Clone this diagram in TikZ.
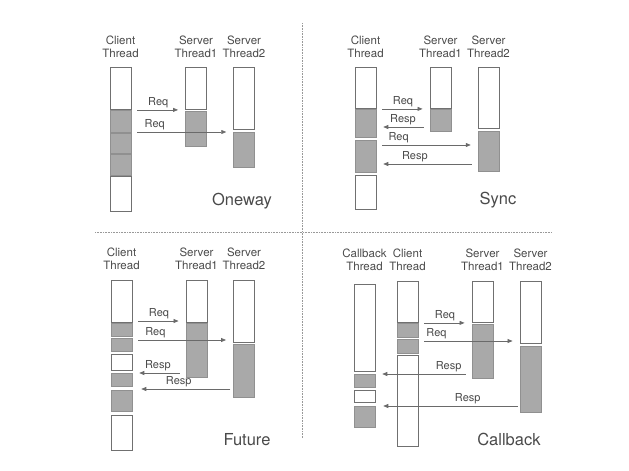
\documentclass[tikz,border=0pt]{standalone}
\usepackage{fontspec}
\setmainfont{TeX Gyre Heros}
\usetikzlibrary{arrows.meta, positioning}
\definecolor{mBorder}{HTML}{707070}
\definecolor{mBusy}{HTML}{A9A9A9}
\definecolor{mText}{HTML}{4A4A4A}
\definecolor{mArrow}{HTML}{6A6A6A}

\begin{document}
\begin{tikzpicture}[x=1pt, y=-1pt,
      >={Triangle[length=5pt, width=4pt]},
      idle/.style={rectangle, draw=mBorder, line width=0.9pt, fill=white,
                   anchor=north, minimum width=21pt, inner sep=0pt},
      busy/.style={idle, fill=mBusy, draw=mBusy!85!black, line width=0.5pt},
      msg/.style={->, draw=mArrow, line width=0.7pt,
                  shorten <=6pt, shorten >=7pt},
      lbl/.style={above, inner sep=1.5pt, font=\fontsize{11}{13}\selectfont,
                  text=mText},
      head/.style={align=center, inner sep=0pt, text=mText,
                   font=\fontsize{11.5}{13}\selectfont},
      title/.style={inner sep=0pt, text=mText,
                    font=\fontsize{16.5}{19}\selectfont},
      divider/.style={densely dotted, draw=black!40, line width=0.6pt}]
    \useasboundingbox (0,0) rectangle (629,471);

    % dividers
    \coordinate (dl) at (95,232);
    \coordinate (dr) at (552,232);
    \coordinate (dt) at (302,23);
    \coordinate (db) at (302,438);
    \draw[divider] (dl) -- (dr);
    \draw[divider] (dt) -- (db);

    % Oneway
    \node[head] (ohc)  at (120.5,47) {Client\\Thread};
    \node[head] (ohs1) at (196,47) {Server\\Thread1};
    \node[head] (ohs2) at (244,47) {Server\\Thread2};
    \node[idle, minimum height=42pt] (oc1) at (120.5,67) {};
    \node[busy, minimum height=22pt] (oc2) at (120.5,109.5) {};
    \node[busy, minimum height=20pt] (oc3) at (120.5,132.5) {};
    \node[busy, minimum height=21pt] (oc4) at (120.5,153.5) {};
    \node[idle, minimum height=35pt] (oc5) at (120.5,176) {};
    \node[idle, minimum height=42pt] (os1a) at (196,67) {};
    \node[busy, minimum height=35pt] (os1b) at (196,111) {};
    \node[idle, minimum height=62pt] (os2a) at (244,67) {};
    \node[busy, minimum height=35pt] (os2b) at (244,132) {};
    \draw[msg] (oc1.south east) -- node[lbl, pos=0.5] {Req} (os1a.south west);
    \draw[msg] (oc2.south east) -- node[lbl, pos=0.23] {Req} (os2b.north west);
    \node[title] (otitle) at (242,201) {Oneway};

    % Sync
    \node[head] (shc)  at (365.5,47) {Client\\Thread};
    \node[head] (shs1) at (440.5,47) {Server\\Thread1};
    \node[head] (shs2) at (488.5,47) {Server\\Thread2};
    \node[idle, minimum height=41pt] (sc1) at (365.5,67) {};
    \node[busy, minimum height=28pt] (sc2) at (365.5,109) {};
    \node[busy, minimum height=32pt] (sc3) at (365.5,140) {};
    \node[idle, minimum height=34pt] (sc4) at (365.5,175) {};
    \node[idle, minimum height=41pt] (ss1a) at (440.5,67) {};
    \node[busy, minimum height=22pt] (ss1b) at (440.5,108.5) {};
    \node[idle, minimum height=61pt] (ss2a) at (488.5,67) {};
    \node[busy, minimum height=40pt] (ss2b) at (488.5,131) {};
    \draw[msg] (sc1.south east) -- node[lbl, pos=0.5] {Req} (ss1a.south west);
    \draw[msg] (ss1b.west |- 0,127) -- node[lbl, pos=0.5] {Resp} (sc2.east |- 0,127);
    \draw[msg] (sc3.east |- 0,145) -- node[lbl, pos=0.22] {Req} (ss2b.west |- 0,145);
    \draw[msg] (ss2b.west |- 0,164) -- node[lbl, pos=0.62] {Resp} (sc3.east |- 0,164);
    \node[title] (stitle) at (498,200) {Sync};

    % Future
    \node[head] (fhc)  at (121.5,259) {Client\\Thread};
    \node[head] (fhs1) at (196.5,259) {Server\\Thread1};
    \node[head] (fhs2) at (244,259) {Server\\Thread2};
    \node[idle, minimum height=42pt] (fc1) at (121.5,280) {};
    \node[busy, minimum height=13pt] (fc2) at (121.5,323) {};
    \node[busy, minimum height=13pt] (fc3) at (121.5,338) {};
    \node[idle, minimum height=16pt] (fc4) at (121.5,354) {};
    \node[busy, minimum height=13pt] (fc5) at (121.5,373) {};
    \node[busy, minimum height=21pt] (fc6) at (121.5,390) {};
    \node[idle, minimum height=35pt] (fc7) at (121.5,415) {};
    \node[idle, minimum height=42pt] (fs1a) at (196.5,280) {};
    \node[busy, minimum height=54pt] (fs1b) at (196.5,323) {};
    \node[idle, minimum height=62pt] (fs2a) at (244,280) {};
    \node[busy, minimum height=53pt] (fs2b) at (244,344) {};
    \draw[msg] (fc1.east |- 0,321) -- node[lbl, pos=0.5] {Req} (fs1a.west |- 0,321);
    \draw[msg] (fc3.east |- 0,340) -- node[lbl, pos=0.23] {Req} (fs2a.west |- 0,340);
    \draw[msg] (fs1b.west |- 0,373) -- node[lbl, pos=0.52] {Resp} (fc5.east |- 0,373);
    \draw[msg, shorten <=3pt, shorten >=9pt] (fs2b.west |- 0,389)
      -- node[lbl, pos=0.54] {Resp} (fc6.east |- 0,389);
    \node[title] (ftitle) at (247,440) {Future};

    % Callback
    \node[head] (chb)  at (364.5,260) {Callback\\Thread};
    \node[head] (chc)  at (407.5,260) {Client\\Thread};
    \node[head] (chs1) at (482.5,260) {Server\\Thread1};
    \node[head] (chs2) at (530.5,260) {Server\\Thread2};
    \node[idle, minimum height=87pt] (cb1) at (364.5,284) {};
    \node[busy, minimum height=13pt] (cb2) at (364.5,374) {};
    \node[idle, minimum height=12pt] (cb3) at (364.5,390) {};
    \node[busy, minimum height=21pt] (cb4) at (364.5,406) {};
    \node[idle, minimum height=41pt] (cc1) at (407.5,281) {};
    \node[busy, minimum height=14pt] (cc2) at (407.5,323) {};
    \node[busy, minimum height=14pt] (cc3) at (407.5,338.5) {};
    \node[idle, minimum height=91pt] (cc4) at (407.5,355) {};
    \node[idle, minimum height=41pt] (cs1a) at (482.5,281) {};
    \node[busy, minimum height=54pt] (cs1b) at (482.5,324) {};
    \node[idle, minimum height=62pt] (cs2a) at (530.5,281) {};
    \node[busy, minimum height=66pt] (cs2b) at (530.5,346) {};
    \draw[msg] (cc1.south east) -- node[lbl, pos=0.5] {Req} (cs1a.south west);
    \draw[msg] (cc3.east |- 0,341) -- node[lbl, pos=0.18] {Req} (cs2a.west |- 0,341);
    \draw[msg] (cs1b.west |- 0,374) -- node[lbl, pos=0.24] {Resp} (cb2.east |- 0,374);
    \draw[msg, shorten <=2pt, shorten >=8pt] (cs2b.west |- 0,406)
      -- node[lbl, pos=0.36] {Resp} (cb4.east |- 0,406);
    \node[title] (ctitle) at (509,439) {Callback};
  \end{tikzpicture}
\end{document}
